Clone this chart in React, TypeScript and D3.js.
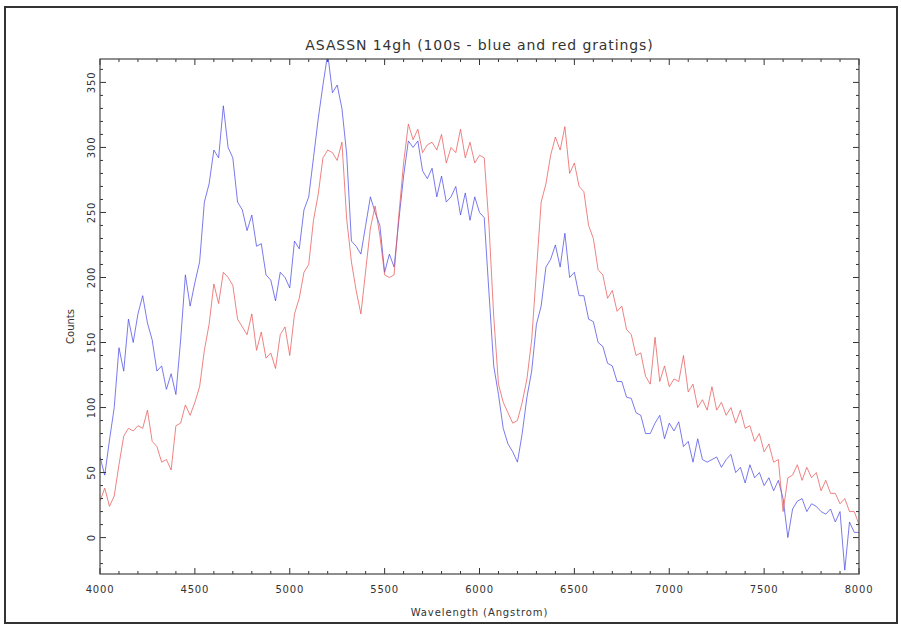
import React from "react";
import * as d3 from "d3";

const TITLE = "ASASSN 14gh (100s - blue and red gratings)";
const X_LABEL = "Wavelength (Angstrom)";
const Y_LABEL = "Counts";

const WL_START = 4000;
const WL_STEP = 25;

const xTickLabels = [4000, 4500, 5000, 5500, 6000, 6500, 7000, 7500, 8000];
const yTickLabels = [0, 50, 100, 150, 200, 250, 300, 350];

// blue grating counts, one per 25 Å from 4000
const blueCounts = [
  62, 48, 75, 100, 146, 128, 168, 150, 172, 186,
  165, 152, 128, 132, 114, 126, 110, 152, 202, 178,
  196, 212, 258, 272, 298, 292, 332, 300, 292, 258,
  252, 236, 248, 224, 226, 202, 198, 182, 204, 200,
  192, 228, 222, 252, 262, 292, 322, 348, 372, 342,
  348, 330, 295, 228, 224, 218, 240, 262, 250, 240,
  204, 218, 208, 244, 278, 305, 300, 305, 282, 276,
  284, 262, 278, 258, 262, 270, 248, 265, 244, 262,
  250, 246, 188, 132, 110, 84, 72, 66, 58, 80,
  108, 128, 164, 178, 208, 214, 225, 208, 234, 200,
  204, 186, 186, 168, 166, 150, 147, 134, 132, 120,
  120, 108, 107, 96, 94, 80, 80, 88, 94, 76,
  88, 82, 89, 70, 74, 58, 76, 60, 58, 60,
  62, 54, 60, 64, 50, 54, 42, 56, 46, 50,
  40, 46, 36, 44, 30, 0, 22, 28, 30, 20,
  26, 24, 20, 18, 22, 12, 20, -25, 12, 4,
  4,
];

// red grating counts, one per 25 Å from 4000
const redCounts = [
  28, 38, 24, 32, 56, 78, 84, 82, 86, 84,
  98, 74, 70, 58, 60, 52, 86, 88, 102, 94,
  104, 116, 144, 164, 195, 180, 204, 200, 194, 168,
  162, 156, 172, 144, 158, 138, 142, 130, 156, 162,
  140, 172, 184, 204, 210, 244, 264, 292, 298, 296,
  290, 304, 245, 212, 190, 172, 205, 238, 255, 232,
  202, 200, 202, 248, 288, 318, 306, 314, 296, 302,
  304, 298, 310, 288, 300, 296, 314, 292, 304, 288,
  294, 292, 240, 170, 118, 104, 96, 88, 90, 104,
  122, 152, 205, 258, 272, 294, 308, 298, 316, 280,
  288, 270, 266, 240, 230, 206, 202, 184, 190, 174,
  178, 160, 156, 140, 142, 124, 118, 154, 120, 132,
  116, 122, 120, 140, 112, 118, 100, 106, 98, 116,
  98, 104, 94, 100, 88, 98, 84, 86, 74, 80,
  66, 72, 58, 60, 20, 46, 48, 56, 44, 54,
  46, 50, 36, 44, 34, 34, 26, 30, 20, 20,
  10,
];

const W = 901;
const H = 627;
const M = { left: 100, right: 859, top: 59, bottom: 574 };

export default function App() {
  const x = d3.scaleLinear().domain([4000, 8000]).range([M.left, M.right]);
  const y = d3.scaleLinear().domain([-28, 368]).range([M.bottom, M.top]);

  const line = d3
    .line<number>()
    .x((_, i) => x(WL_START + i * WL_STEP))
    .y((d) => y(d));

  const xMinor = d3.range(4000, 8001, 100);
  const yMinor = d3.range(-20, 368, 10);
  const tickCol = "#333";
  const font = "'DejaVu Sans', sans-serif";

  return (
    <svg
      width={W}
      height={H}
      style={{ position: "absolute", left: 0, top: 0, background: "#fff" }}
      fontFamily={font}
    >
      <rect x={0} y={0} width={W} height={H} fill="#fff" />
      <rect x={5} y={7} width={892} height={616} fill="none" stroke="#333" strokeWidth={2} />
      <defs>
        <clipPath id="plotclip">
          <rect x={M.left} y={M.top} width={M.right - M.left} height={M.bottom - M.top} />
        </clipPath>
      </defs>
      <g clipPath="url(#plotclip)">
        <path d={line(blueCounts) || ""} fill="none" stroke="#4646e6" strokeWidth={0.9} strokeOpacity={0.8} />
        <path d={line(redCounts) || ""} fill="none" stroke="#e85252" strokeWidth={0.9} strokeOpacity={0.8} />
      </g>
      {xMinor.map((v) => {
        const major = v % 500 === 0;
        const len = major ? 6 : 3;
        return (
          <g key={"xt" + v} stroke={tickCol} strokeWidth={1}>
            <line x1={x(v)} x2={x(v)} y1={M.bottom} y2={M.bottom - len} />
            <line x1={x(v)} x2={x(v)} y1={M.top} y2={M.top + len} />
          </g>
        );
      })}
      {yMinor.map((v) => {
        const major = v % 50 === 0;
        const len = major ? 6 : 3;
        return (
          <g key={"yt" + v} stroke={tickCol} strokeWidth={1}>
            <line x1={M.left} x2={M.left + len} y1={y(v)} y2={y(v)} />
            <line x1={M.right} x2={M.right - len} y1={y(v)} y2={y(v)} />
          </g>
        );
      })}
      <rect
        x={M.left}
        y={M.top}
        width={M.right - M.left}
        height={M.bottom - M.top}
        fill="none"
        stroke="#444"
        strokeWidth={1.2}
      />
      {xTickLabels.map((v) => (
        <text key={"xl" + v} x={x(v)} y={593} textAnchor="middle" fontSize={10} fill="#333" letterSpacing={0.8}>
          {v}
        </text>
      ))}
      {yTickLabels.map((v) => (
        <text
          key={"yl" + v}
          transform={`translate(95,${y(v)}) rotate(-90)`}
          textAnchor="middle"
          fontSize={10}
          fill="#333"
          letterSpacing={0.8}
        >
          {v}
        </text>
      ))}
      <text x={(M.left + M.right) / 2} y={50} textAnchor="middle" fontSize={14} fill="#333" letterSpacing={0.9}>
        {TITLE}
      </text>
      <text x={(M.left + M.right) / 2} y={616} textAnchor="middle" fontSize={10} fill="#333" letterSpacing={0.9}>
        {X_LABEL}
      </text>
      <text
        transform={`translate(74,${(M.top + M.bottom) / 2 + 10}) rotate(-90)`}
        textAnchor="middle"
        fontSize={10}
        fill="#333"
      >
        {Y_LABEL}
      </text>
    </svg>
  );
}
